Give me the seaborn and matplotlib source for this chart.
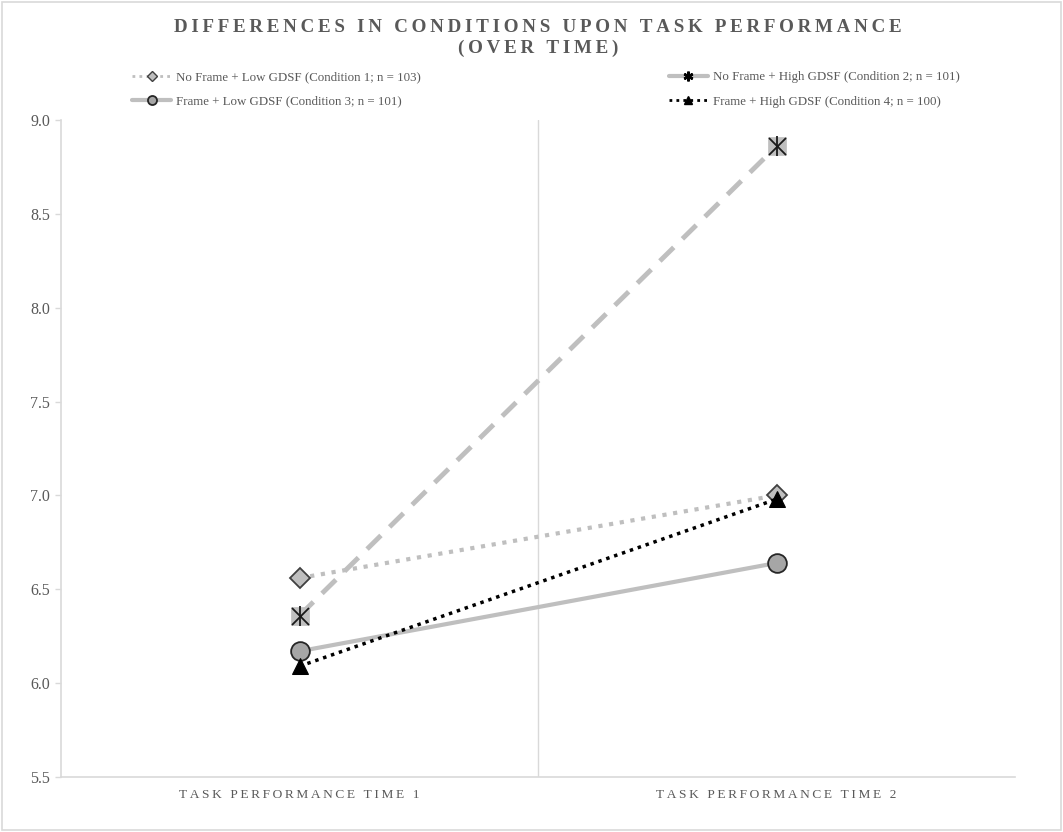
import matplotlib
matplotlib.use("Agg")
import matplotlib.pyplot as plt
from matplotlib.lines import Line2D
from matplotlib.patches import Rectangle
import seaborn as sns
import pandas as pd

# Mean task performance per condition at the two measurement times
times = ["TASK PERFORMANCE TIME 1", "TASK PERFORMANCE TIME 2"]
cond1 = [6.56, 7.00]
cond2 = [6.36, 8.86]
cond3 = [6.17, 6.64]
cond4 = [6.09, 6.98]
labels = [
    "No Frame + Low GDSF (Condition 1; n = 103)",
    "No Frame + High GDSF (Condition 2; n = 101)",
    "Frame + Low GDSF (Condition 3; n = 101)",
    "Frame + High GDSF (Condition 4; n = 100)",
]
y_ticks = [5.5, 6.0, 6.5, 7.0, 7.5, 8.0, 8.5, 9.0]

sns.set_theme(style="white")
plt.rcParams["font.family"] = ["Liberation Serif", "DejaVu Serif"]

TXT = "#595959"
GRID = "#d9d9d9"
LIGHT = "#bfbfbf"

def spaced(s, sep="\u2009"):
    return sep.join(s)

fig = plt.figure(figsize=(10.63, 8.32), dpi=100)
ax = fig.add_axes([61 / 1063, 1 - 777 / 832, (1015 - 61) / 1063, (777 - 120) / 832])

df = pd.DataFrame({
    "time": times * 4,
    "score": cond1 + cond2 + cond3 + cond4,
    "cond": sum([[l] * 2 for l in labels], []),
})

def series(i):
    return df[df["cond"] == labels[i]]

# Condition 1: dotted light line with diamonds
sns.lineplot(data=series(0), x="time", y="score", ax=ax, color=LIGHT, lw=3,
             linestyle=(0, (1, 1.6)), marker="D", markersize=10,
             markerfacecolor="#bfbfbf", markeredgecolor="#404040",
             markeredgewidth=1.3, legend=False, zorder=3)
# Condition 2: dashed light line with boxed asterisks
sns.lineplot(data=series(1), x="time", y="score", ax=ax, color=LIGHT, lw=3.5,
             linestyle=(0, (4, 2.5)), marker="s", markersize=13,
             markerfacecolor="#bfbfbf", markeredgecolor="#bfbfbf",
             markeredgewidth=0.5, legend=False, zorder=3)
sns.scatterplot(data=series(1), x="time", y="score", ax=ax, marker="x",
                s=150, color="#1a1a1a", linewidth=1.3, legend=False, zorder=4)
sns.scatterplot(data=series(1), x="time", y="score", ax=ax, marker="|",
                s=190, color="#1a1a1a", linewidth=1.3, legend=False, zorder=4)
# Condition 3: solid light line with circles
sns.lineplot(data=series(2), x="time", y="score", ax=ax, color=LIGHT, lw=3,
             linestyle="-", marker="o", markersize=13.5,
             markerfacecolor="#a6a6a6", markeredgecolor="#262626",
             markeredgewidth=1.3, legend=False, zorder=3)
# Condition 4: dotted black line with triangles
sns.lineplot(data=series(3), x="time", y="score", ax=ax, color="black", lw=2.5,
             linestyle=(0, (1, 1.4)), marker="^", markersize=11,
             markerfacecolor="black", markeredgecolor="black",
             legend=False, zorder=5)

ax.set_xlim(-0.5, 1.5)
ax.set_ylim(5.5, 9.0)
ax.set_yticks(y_ticks)
ax.set_yticklabels([f"{v:.1f}" for v in y_ticks], color=TXT, fontsize=11.5)
ax.set_xticks([0, 1])
ax.set_xticklabels([spaced(t, "\u2009") for t in times], color=TXT, fontsize=9.6)
ax.set_xlabel("")
ax.set_ylabel("")
ax.axvline(0.5, color=GRID, lw=1, zorder=1)

for side in ["top", "right"]:
    ax.spines[side].set_visible(False)
for side in ["left", "bottom"]:
    ax.spines[side].set_color(GRID)
    ax.spines[side].set_linewidth(1.2)
ax.tick_params(axis="y", which="both", left=True, length=4, color=GRID,
               width=1, pad=4)
ax.tick_params(axis="x", bottom=False, pad=2.5)

# Title
fig.text(538 / 1063, 1 - 38 / 832,
         spaced("DIFFERENCES IN CONDITIONS UPON TASK PERFORMANCE") + "\n" +
         spaced("(OVER TIME)"),
         ha="center", va="center", fontsize=13.7, fontweight="bold",
         color=TXT, linespacing=1.25)

# Legend (entries ordered so rows read condition 1-2, then 3-4)
h1 = Line2D([], [], color=LIGHT, lw=2, linestyle=(0, (1, 1.5)), marker="D",
            markersize=5, markerfacecolor="#bfbfbf", markeredgecolor="#404040")
h2 = Line2D([], [], color=LIGHT, lw=3, linestyle="-", marker=(6, 2, 0),
            markersize=7, markeredgecolor="black", markeredgewidth=1.8)
h3 = Line2D([], [], color=LIGHT, lw=3, linestyle="-", marker="o",
            markersize=6.5, markerfacecolor="#a6a6a6", markeredgecolor="#262626",
            markeredgewidth=1.3)
h4 = Line2D([], [], color="black", lw=2, linestyle=(0, (1, 1.5)), marker="^",
            markersize=5.5, markerfacecolor="black", markeredgecolor="black")
leg = fig.legend([h1, h3, h2, h4], [labels[0], labels[2], labels[1], labels[3]],
                 ncol=2, loc="center",
                 bbox_to_anchor=(546 / 1063, 1 - 89.5 / 832), frameon=False,
                 fontsize=9.3, handlelength=3.0, handletextpad=0.4,
                 columnspacing=19.2, labelspacing=0.95)
for t in leg.get_texts():
    t.set_color(TXT)

# Outer chart border
fig.patches.append(Rectangle((0.002, 0.002), 0.996, 0.996, transform=fig.transFigure,
                             fill=False, edgecolor=GRID, lw=1.2))

fig.savefig("out.png", dpi=100)
